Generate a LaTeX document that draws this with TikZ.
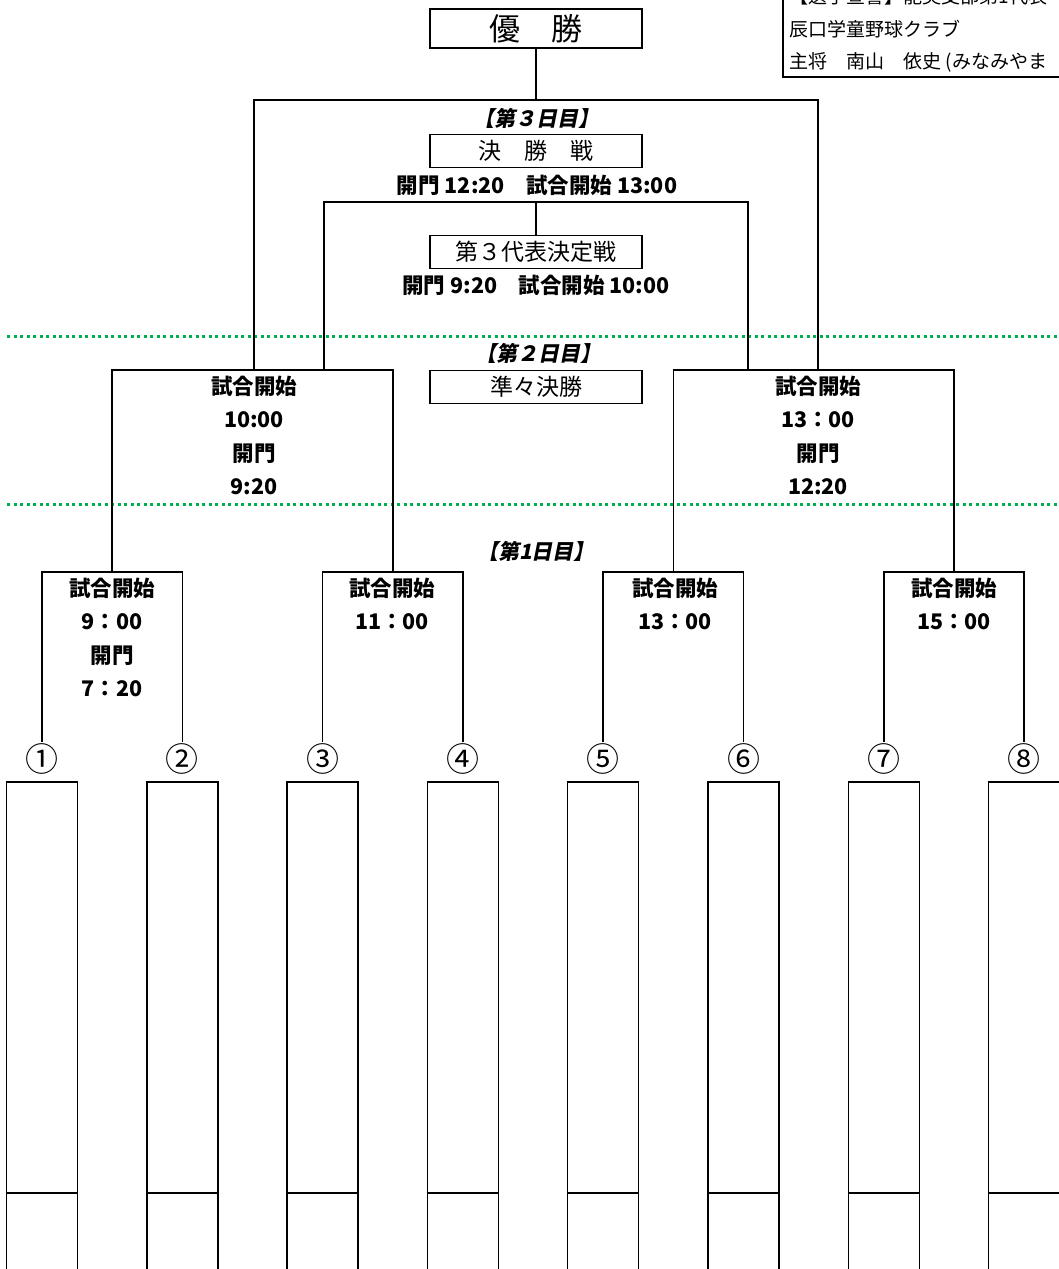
\documentclass[tikz,border=0pt]{standalone}
\usepackage{fontspec}
\newfontfamily\jp{Noto Sans CJK JP}
\newfontfamily\jpsl[FakeSlant=0.2]{Noto Sans CJK JP}
\definecolor{daygreen}{RGB}{0,176,80}
\tikzset{
  gamebox/.style={draw, minimum width=212pt, minimum height=33pt, inner sep=0pt, font=\jp\fontsize{23}{23}\selectfont},
  timelbl/.style={inner sep=0pt, font=\jp\bfseries\fontsize{21.5}{21.5}\selectfont},
  daylbl/.style={inner sep=0pt, font=\jpsl\bfseries\fontsize{21}{21}\selectfont},
  seedlbl/.style={inner sep=0pt, font=\jp\fontsize{33}{33}\selectfont},
  teambox/.style={draw, minimum width=71pt, minimum height=500pt, anchor=north, inner sep=0pt},
  dayline/.style={draw=daygreen, line width=3pt, dash pattern=on 3pt off 3.5pt},
  infolbl/.style={anchor=west, inner sep=0pt, font=\jp\fontsize{19}{19}\selectfont}
}
\begin{document}
\begin{tikzpicture}[x=1pt, y=-1pt, line width=1.5pt]
    \useasboundingbox (0,0) rectangle (1058,1269);
    \def\colgap{140.3}
    \draw (783,-5) -- (783,77) -- (1070,77);
    \node[infolbl] (oath) at (789,-4) {【選手宣誓】能美支部第1代表};
    \node[infolbl] (club) at (789,29) {辰口学童野球クラブ};
    \node[infolbl] (capt) at (789,62) {主将　南山　依史 (みなみやま};

    \draw[dayline] (7,336) -- (1058,336);
    \draw[dayline] (7,504) -- (1058,504);

    \node[gamebox, minimum height=39pt, font=\jp\fontsize{31}{31}\selectfont] (win) at (536,28.5) {優　勝};
    \node[daylbl] (day3) at (536,118) {【第３日目】};
    \node[gamebox] (final) at (536,151) {決　勝　戦};
    \node[timelbl] (finaltime) at (537,185) {開門 12:20　試合開始 13:00};
    \node[gamebox] (third) at (536,252) {第３代表決定戦};
    \node[timelbl] (thirdtime) at (536,285) {開門 9:20　試合開始 10:00};
    \node[daylbl] (day2) at (538,353) {【第２日目】};
    \node[gamebox] (qf) at (536,387) {準々決勝};
    \node[daylbl] (day1) at (536,551) {【第1日目】};

    \foreach \i/\s in {1/①,2/②,3/③,4/④,5/⑤,6/⑥,7/⑦,8/⑧} {
        \node[seedlbl] (s\i) at ({42+\colgap*(\i-1)},759) {\s};
        \node[teambox] (t\i) at ({42+\colgap*(\i-1)},781) {};
        \draw ([yshift=-412pt]t\i.north west) -- ([yshift=-412pt]t\i.north east);
    }
    \foreach \k in {1,...,4} {
        \pgfmathtruncatemacro\a{2*\k-1}
        \pgfmathtruncatemacro\b{2*\k}
        \pgfmathsetmacro\mx{42+\colgap*(2*\k-1.5)}
        \coordinate (g\k) at (\mx,572);
        \draw ([yshift=1pt]s\a.north) |- (g\k) -| ([yshift=1pt]s\b.north);
    }
    \foreach \txt [count=\j] in {試合開始,9：00,開門,7：20}
        \node[timelbl] (g1l\j) at (112,555+33.5*\j) {\txt};
    \foreach \txt [count=\j] in {試合開始,11：00}
        \node[timelbl] (g2l\j) at (392,555+33.5*\j) {\txt};
    \foreach \txt [count=\j] in {試合開始,13：00}
        \node[timelbl] (g3l\j) at (675,555+33.5*\j) {\txt};
    \foreach \txt [count=\j] in {試合開始,15：00}
        \node[timelbl] (g4l\j) at (954,555+33.5*\j) {\txt};

    \coordinate (fL) at (254,370);
    \coordinate (sL) at (324,370);
    \coordinate (sR) at (748,370);
    \coordinate (fR) at (818,370);
    \coordinate (fc) at (536,100);
    \coordinate (sc) at (536,202);
    \draw (g1) |- (fL) -- (sL) -| (g2);
    \draw (g3) |- (sR) -- (fR) -| (g4);
    \draw (win) -- (fc);
    \draw (fL) |- (fc) -| (fR);
    \draw (sL) |- (sc) -| (sR);
    \draw (sc) -- (third);
    \foreach \txt [count=\j] in {試合開始,10:00,開門,9:20}
        \node[timelbl] (q1l\j) at (254,352.5+33.6*\j) {\txt};
    \foreach \txt [count=\j] in {試合開始,13：00,開門,12:20}
        \node[timelbl] (q2l\j) at (818,352.5+33.6*\j) {\txt};
\end{tikzpicture}
\end{document}
